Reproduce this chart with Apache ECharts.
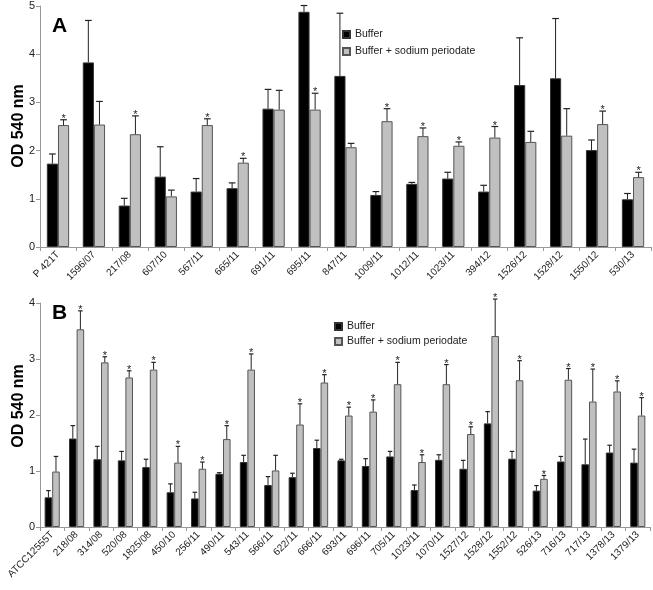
<!DOCTYPE html>
<html>
<head>
<meta charset="utf-8">
<script src="https://cdn.jsdelivr.net/npm/echarts@6/dist/echarts.min.js"></script>
<style>
html,body{margin:0;padding:0;background:#fff;}
#c{width:653px;height:590px;}
</style>
</head>
<body>
<div id="c"></div>
<script>
// ---- Panel A data ----
const catA = ['P 421T','1596/07','217/08','607/10','567/11','665/11','691/11','695/11','847/11','1009/11','1012/11','1023/11','394/12','1526/12','1528/12','1550/12','530/13'];
const bufA = [1.73,3.83,0.86,1.46,1.15,1.22,2.87,4.88,3.55,1.08,1.31,1.42,1.15,3.36,3.50,2.01,0.99];
const bufSdA = [0.20,0.87,0.15,0.62,0.27,0.11,0.40,0.13,1.30,0.07,0.03,0.13,0.13,0.98,1.24,0.21,0.12];
const perA = [2.53,2.54,2.34,1.05,2.53,1.75,2.85,2.85,2.07,2.61,2.30,2.10,2.27,2.18,2.31,2.55,1.45];
const perSdA = [0.11,0.48,0.38,0.13,0.13,0.09,0.40,0.34,0.08,0.26,0.17,0.08,0.23,0.22,0.56,0.27,0.10];
const starA = [1,0,1,0,1,1,0,1,0,1,1,1,1,0,0,1,1];
const ticksA = [0,1,2,3,4,5];

// ---- Panel B data ----
const catB = ['ATCC12555T','218/08','314/08','520/08','1825/08','450/10','256/11','490/11','543/11','566/11','622/11','666/11','693/11','696/11','705/11','1023/11','1070/11','1527/12','1528/12','1552/12','526/13','716/13','717/13','1378/13','1379/13'];
const bufB = [0.53,1.58,1.21,1.19,1.07,0.62,0.51,0.95,1.16,0.75,0.89,1.41,1.19,1.09,1.26,0.66,1.20,1.04,1.85,1.22,0.65,1.17,1.12,1.33,1.15];
const bufSdB = [0.12,0.23,0.23,0.16,0.14,0.15,0.11,0.02,0.12,0.15,0.07,0.14,0.02,0.13,0.09,0.09,0.09,0.15,0.21,0.13,0.09,0.09,0.45,0.13,0.24];
const perB = [0.99,3.53,2.94,2.67,2.81,1.15,1.04,1.57,2.81,1.01,1.83,2.58,1.99,2.06,2.55,1.16,2.55,1.66,3.41,2.62,0.86,2.63,2.24,2.42,1.99];
const perSdB = [0.27,0.33,0.10,0.12,0.13,0.29,0.12,0.24,0.28,0.27,0.37,0.14,0.15,0.21,0.39,0.13,0.35,0.13,0.66,0.35,0.06,0.20,0.58,0.19,0.32];
const starB = [0,1,1,1,1,1,1,1,1,0,1,1,1,1,1,1,1,1,1,1,1,1,1,1,1];
const ticksB = [0,1,2,3,4];

const S1 = 'Buffer';
const S2 = 'Buffer + sodium periodate';
const FONT = '"Liberation Sans", Arial, sans-serif';
const GAP = 0.38;

function errData(means, sds, stars){
  return means.map((m,i)=>[i, m, sds[i], stars ? stars[i] : 0]);
}
function makeErr(sign){
  return function(params, api){
    const i = api.value(0), m = api.value(1), sd = api.value(2), st = api.value(3);
    const cat = api.size([1,0])[0];
    const bw = cat*(1-GAP)/2;
    const b = api.coord([i, m]);
    const t = api.coord([i, m+sd]);
    const x = b[0] + sign*bw/2;
    const cw = bw*0.6;
    const children = [
      {type:'line', shape:{x1:x,y1:b[1],x2:x,y2:t[1]}, style:{stroke:'#222',lineWidth:1}},
      {type:'line', shape:{x1:x-cw/2,y1:t[1],x2:x+cw/2,y2:t[1]}, style:{stroke:'#222',lineWidth:1.2}}
    ];
    if (st) {
      children.push({type:'text', style:{text:'*', x:x, y:t[1]-1, align:'center', verticalAlign:'middle', font:'11px '+FONT, fill:'#222'}});
    }
    return {type:'group', children};
  };
}

function xAx(cats, gi){
  return {type:'category', gridIndex:gi, data:cats,
    axisLine:{lineStyle:{color:'#999'}},
    axisTick:{show:true, length:4, lineStyle:{color:'#999'}, interval:0},
    axisLabel:{interval:0, rotate:45, fontSize:10, color:'#222', fontFamily:FONT, margin:6}};
}
function yAx(max, gi){
  return {type:'value', gridIndex:gi, min:0, max:max, interval:1,
    splitLine:{show:false},
    axisLine:{show:true, lineStyle:{color:'#999'}},
    axisTick:{show:true, length:4, lineStyle:{color:'#999'}},
    axisLabel:{fontSize:11, color:'#222', fontFamily:FONT, margin:5}};
}
const blackStyle = {color:'#000', borderColor:'#333', borderWidth:1};
const greyStyle = {color:'#c0c0c0', borderColor:'#555', borderWidth:1};

const legendCommon = {orient:'vertical', padding:0, itemWidth:7, itemHeight:7, icon:'rect',
  textStyle:{fontSize:10.5, color:'#222', fontFamily:FONT}, data:[S1,S2]};

const option = {
  animation:false,
  backgroundColor:'#fff',
  grid:[
    {left:40, right:2, top:6, height:241},
    {left:40, right:3, top:303, height:224}
  ],
  xAxis:[xAx(catA,0), xAx(catB,1)],
  yAxis:[yAx(5,0), yAx(4,1)],
  legend:[
    Object.assign({left:342, top:29, itemGap:6}, legendCommon),
    Object.assign({left:334, top:321, itemGap:4}, legendCommon)
  ],
  graphic:[
    {type:'text', left:52, top:16, style:{text:'A', font:'bold 21px '+FONT, fill:'#000'}},
    {type:'text', left:52, top:303, style:{text:'B', font:'bold 21px '+FONT, fill:'#000'}},
    {type:'text', x:18.5, y:126, rotation:Math.PI/2, style:{text:'OD 540 nm', font:'bold 16px '+FONT, fill:'#000', align:'center', verticalAlign:'middle'}},
    {type:'text', x:18.5, y:406, rotation:Math.PI/2, style:{text:'OD 540 nm', font:'bold 16px '+FONT, fill:'#000', align:'center', verticalAlign:'middle'}}
  ],
  series:[
    {name:S1, type:'bar', xAxisIndex:0, yAxisIndex:0, data:bufA, barGap:'0%', barCategoryGap:(GAP*100)+'%', itemStyle:blackStyle},
    {name:S2, type:'bar', xAxisIndex:0, yAxisIndex:0, data:perA, barGap:'0%', barCategoryGap:(GAP*100)+'%', itemStyle:greyStyle},
    {type:'custom', xAxisIndex:0, yAxisIndex:0, data:errData(bufA,bufSdA,null), renderItem:makeErr(-1), clip:false, z:5},
    {type:'custom', xAxisIndex:0, yAxisIndex:0, data:errData(perA,perSdA,starA), renderItem:makeErr(1), clip:false, z:5},
    {name:S1, type:'bar', xAxisIndex:1, yAxisIndex:1, data:bufB, barGap:'0%', barCategoryGap:(GAP*100)+'%', itemStyle:blackStyle},
    {name:S2, type:'bar', xAxisIndex:1, yAxisIndex:1, data:perB, barGap:'0%', barCategoryGap:(GAP*100)+'%', itemStyle:greyStyle},
    {type:'custom', xAxisIndex:1, yAxisIndex:1, data:errData(bufB,bufSdB,null), renderItem:makeErr(-1), clip:false, z:5},
    {type:'custom', xAxisIndex:1, yAxisIndex:1, data:errData(perB,perSdB,starB), renderItem:makeErr(1), clip:false, z:5}
  ]
};
const chart = echarts.init(document.getElementById('c'), null, {renderer:'canvas'});
chart.setOption(option);
</script>
</body>
</html>
